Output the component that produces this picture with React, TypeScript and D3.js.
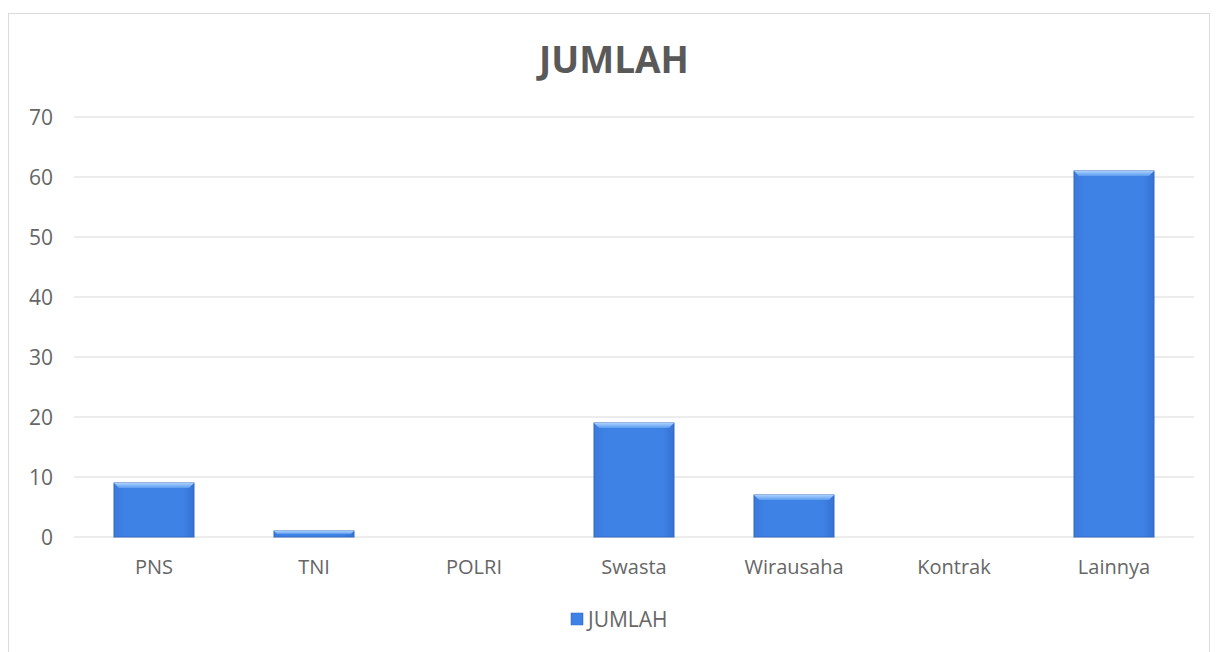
import React from "react";
import * as d3 from "d3";

const categories = ["PNS", "TNI", "POLRI", "Swasta", "Wirausaha", "Kontrak", "Lainnya"];
const values = [9, 1, 0, 19, 7, 0, 61];
const yTicks = [0, 10, 20, 30, 40, 50, 60, 70];
const seriesName = "JUMLAH";
const title = "JUMLAH";

const W = 1217;
const H = 652;
const FONT = "'Open Sans', sans-serif";

export default function App() {
  const x = d3.scaleBand<string>().domain(categories).range([74, 1194]).paddingInner(0.5).paddingOuter(0.25);
  const y = d3.scaleLinear().domain([0, 70]).range([537, 117]);
  const bw = x.bandwidth();
  return (
    <svg width={W} height={H} style={{ position: "absolute", left: 0, top: 0, background: "#fff" }}>
      <defs>
        <linearGradient id="barG" x1="0" y1="0" x2="1" y2="0">
          <stop offset="0" stopColor="#3a79dc" />
          <stop offset="0.15" stopColor="#3f82e6" />
          <stop offset="0.85" stopColor="#3f82e6" />
          <stop offset="1" stopColor="#3672d4" />
        </linearGradient>
        <linearGradient id="topG" x1="0" y1="0" x2="0" y2="1">
          <stop offset="0" stopColor="#a8d0ff" />
          <stop offset="1" stopColor="#5c9cf0" />
        </linearGradient>
      </defs>
      <rect x={8.5} y={13.5} width={1201} height={650} fill="#fff" stroke="#dcdcdc" />
      <text x={614} y={73} textAnchor="middle" fontFamily={FONT} fontWeight="bold" fontSize={37} fill="#595959">
        {title}
      </text>
      {yTicks.map((t) => (
        <g key={t}>
          <line x1={74} x2={1194} y1={y(t)} y2={y(t)} stroke="#e6e6e6" strokeWidth={1.5} />
          <text x={53} y={y(t) + 8} textAnchor="end" fontFamily={FONT} fontSize={21} fill="#666">
            {t}
          </text>
        </g>
      ))}
      {categories.map((c, i) => {
        const v = values[i];
        const bx = x(c)!;
        const top = y(v);
        const h = y(0) - top;
        const bev = Math.min(5, h / 2);
        return (
          <g key={c}>
            {v > 0 && (
              <g>
                <rect x={bx} y={top} width={bw} height={h} fill="url(#barG)" stroke="#3569bf" strokeWidth={1} />
                <path
                  d={`M${bx},${top} L${bx + bw},${top} L${bx + bw - bev},${top + bev} L${bx + bev},${top + bev} Z`}
                  fill="url(#topG)"
                />
              </g>
            )}
            <text x={bx + bw / 2} y={574} textAnchor="middle" fontFamily={FONT} fontSize={20} fill="#666">
              {c}
            </text>
          </g>
        );
      })}
      <rect x={571} y={613} width={12} height={12} fill="url(#barG)" stroke="#3569bf" strokeWidth={0.5} />
      <text x={588} y={627} fontFamily={FONT} fontSize={21} fill="#666">
        {seriesName}
      </text>
    </svg>
  );
}
